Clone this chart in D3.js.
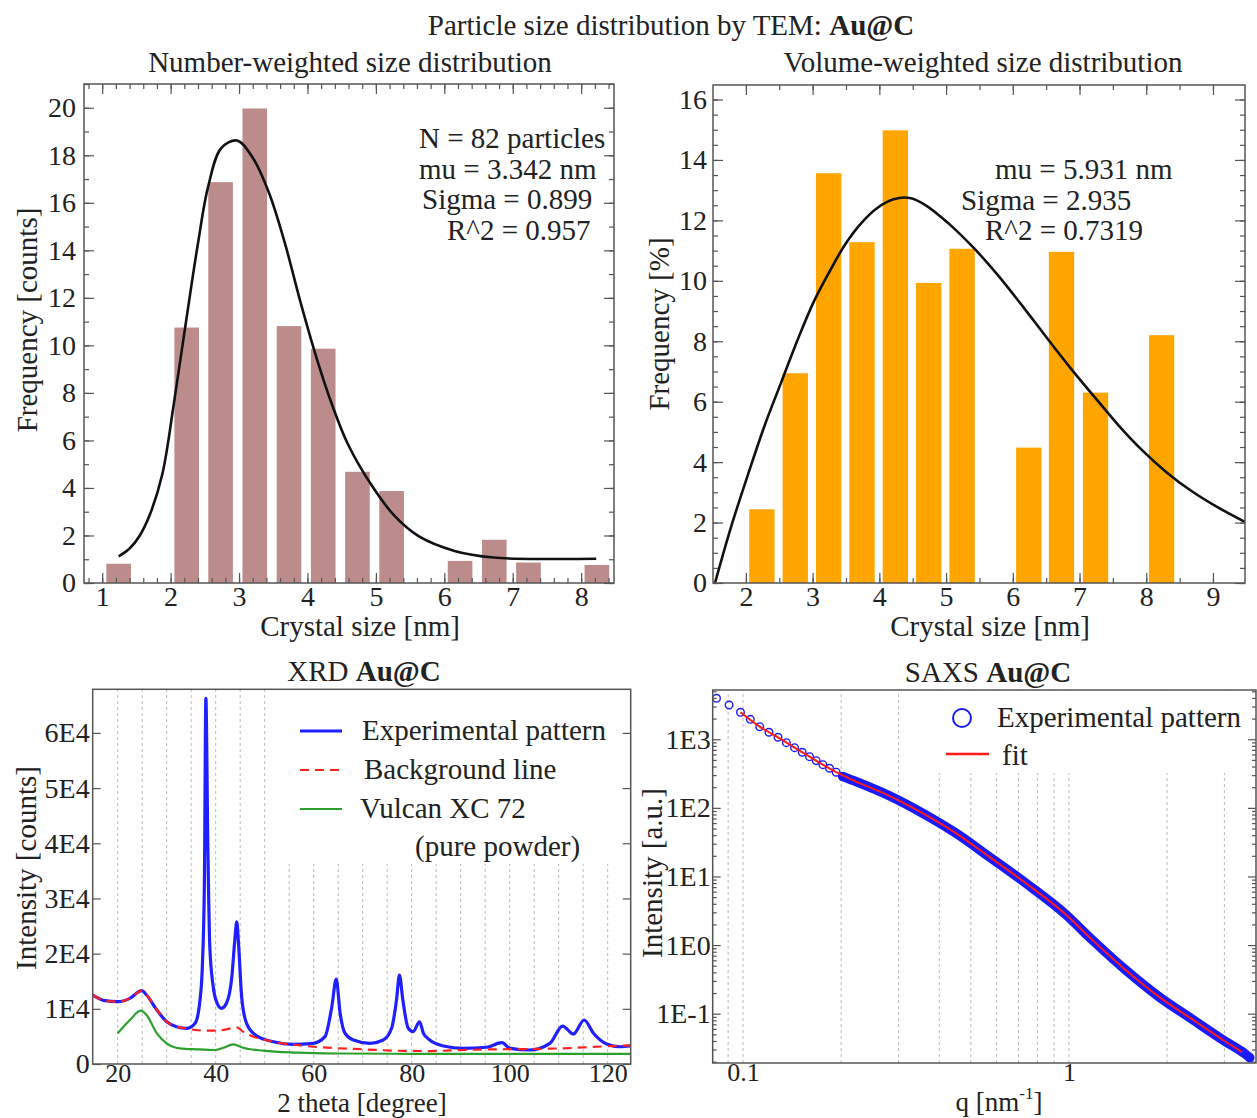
<!DOCTYPE html>
<html>
<head>
<meta charset="utf-8">
<script src="https://cdn.jsdelivr.net/npm/d3@7"></script>
<style>
body { margin: 0; background: #fff; }
svg text { font-family: "Liberation Serif", "Times New Roman", serif; font-size: 29px; fill: #222; }
svg .tick text { font-size: 28px; }
svg .small .tick text { font-size: 26px; }
</style>
</head>
<body>
<svg id="chart" width="1257" height="1118"></svg>
<script>
// number-weighted histogram (counts)
var numCenters = [1.24, 2.235, 2.73, 3.23, 3.73, 4.23, 4.73, 5.23, 6.23, 6.73, 7.23, 8.23];
var numCounts = [0.81, 10.75, 16.87, 19.97, 10.81, 9.86, 4.68, 3.87, 0.93, 1.82, 0.86, 0.76];
var numFitX = [1.24, 1.40, 1.55, 1.70, 1.88, 2.05, 2.22, 2.40, 2.55, 2.74, 2.97, 3.20, 3.44, 3.67, 3.90, 4.13, 4.36, 4.59, 4.94, 5.28, 5.63, 6.15, 6.72, 7.59, 8.22];
var numFitY = [1.12, 1.45, 2.0, 2.9, 4.6, 7.6, 10.9, 14.3, 16.7, 18.3, 18.62, 17.9, 16.4, 14.3, 11.8, 9.5, 7.5, 5.85, 4.1, 2.8, 1.96, 1.35, 1.07, 1.01, 1.02];
var numXTicks = [1, 2, 3, 4, 5, 6, 7, 8];
var numYTicks = [0, 2, 4, 6, 8, 10, 12, 14, 16, 18, 20];
var numNotes = ["N = 82 particles", "mu = 3.342 nm", "Sigma = 0.899", "R^2 = 0.957"];

// volume-weighted histogram (%)
var volCenters = [2.24, 2.74, 3.24, 3.74, 4.24, 4.74, 5.24, 6.24, 6.73, 7.24, 8.23];
var volPercent = [2.44, 6.94, 13.56, 11.28, 14.98, 9.93, 11.06, 4.48, 10.96, 6.30, 8.2];
var volFitX = [1.537, 1.777, 2.048, 2.289, 2.529, 2.770, 3.011, 3.252, 3.492, 3.733, 3.974, 4.214, 4.455, 4.696, 5.057, 5.418, 5.779, 6.140, 6.501, 6.862, 7.223, 7.584, 7.945, 8.306, 8.667, 9.028, 9.479];
var volFitY = [0, 1.85, 3.70, 5.26, 6.64, 8.02, 9.28, 10.30, 11.22, 11.92, 12.42, 12.70, 12.74, 12.50, 11.86, 11.08, 10.18, 9.18, 8.14, 7.12, 6.16, 5.22, 4.38, 3.66, 3.06, 2.56, 2.02];
var volXTicks = [2, 3, 4, 5, 6, 7, 8, 9];
var volYTicks = [0, 2, 4, 6, 8, 10, 12, 14, 16];
var volNotes = ["mu = 5.931 nm", "Sigma = 2.935", "R^2 = 0.7319"];

// XRD
var xrdX = [14.9, 17.4, 20.0, 22.5, 24.9, 25.9, 28.0, 30.0, 32.0, 34.1, 35.8, 36.8, 37.3, 37.7, 38.0, 38.4, 38.8, 39.5, 40.3, 41.2, 42.2, 43.3, 43.9, 44.3, 44.7, 45.3, 46.3, 48.4, 51.8, 55.8, 59.9, 62.3, 63.7, 64.6, 65.4, 66.4, 68.1, 71.5, 74.2, 75.9, 76.9, 77.5, 78.2, 79.3, 80.3, 81.6, 82.4, 83.7, 86.5, 90.5, 95.3, 98.4, 100.1, 104.1, 108.2, 110.8, 113.0, 115.2, 117.1, 119.8, 122.5, 124.6];
var xrdY = [12500, 11470, 11290, 11900, 13280, 12500, 9780, 7660, 6760, 6460, 7370, 11590, 18240, 33330, 66250, 39370, 21250, 14000, 11000, 10090, 11000, 15820, 22460, 25780, 21250, 12190, 7370, 5070, 4040, 3570, 3750, 4950, 10380, 15400, 9180, 5560, 4350, 3750, 4350, 6470, 11590, 16120, 11590, 6470, 5850, 7660, 5560, 4350, 3260, 2840, 3030, 3860, 2840, 2540, 3750, 6880, 5430, 7970, 5560, 3620, 3130, 3260];
var bgX = [14.9, 17.4, 20.0, 22.5, 24.9, 25.9, 28.0, 30.0, 32.0, 34.1, 35.8, 39.5, 42.2, 44.3, 45.6, 47.7, 51.8, 56.5, 59.9, 65.0, 70.1, 76.9, 83.7, 90.5, 97.3, 104.1, 110.9, 117.8, 124.6];
var bgY = [12500, 11470, 11290, 11900, 13280, 12500, 9780, 7660, 6760, 6460, 6160, 6030, 6280, 6650, 5850, 4950, 4040, 3440, 3130, 2850, 2660, 2410, 2350, 2540, 2660, 2720, 2840, 3130, 3390];
var vulX = [20.0, 22.5, 24.7, 25.9, 28.0, 30.0, 32.7, 36.1, 39.9, 41.6, 43.6, 45.6, 49.7, 56.5, 64.7, 80.0, 100.0, 124.6];
var vulY = [5560, 7970, 9660, 8880, 5560, 3750, 2840, 2660, 2540, 2950, 3570, 2950, 2410, 2050, 1900, 1850, 1820, 1820];
var xrdXTicks = [20, 40, 60, 80, 100, 120];
var xrdYTicks = [0, 10000, 20000, 30000, 40000, 50000, 60000];
var xrdYLabels = ["0", "1E4", "2E4", "3E4", "4E4", "5E4", "6E4"];
var xrdLegend = ["Experimental pattern", "Background line", "Vulcan XC 72", "(pure powder)"];

// SAXS
var saxsQ = [0.0829, 0.0906, 0.0982, 0.1053, 0.1125, 0.1201, 0.1280, 0.1358, 0.1439, 0.1519, 0.1600, 0.1677, 0.1757, 0.1842, 0.1931, 0.2023];
var saxsI = [3953, 3155, 2471, 1950, 1524, 1265, 1069, 893, 755, 647, 558, 488, 426, 378, 331, 286];
var bandQ = [0.2023, 0.2223, 0.2811, 0.3553, 0.4496, 0.5684, 0.7362, 0.9797, 1.177, 1.489, 1.882, 2.380, 3.012, 3.467, 3.59];
var bandI = [286, 241, 150, 83.8, 42.9, 19.5, 8.02, 2.77, 1.20, 0.438, 0.179, 0.0839, 0.0396, 0.026, 0.0228];
var fitQ = [0.0982, 0.1125, 0.1280, 0.1439, 0.1600, 0.1757, 0.1931, 0.2223, 0.2811, 0.3553, 0.4496, 0.5684, 0.7362, 0.9797, 1.177, 1.489, 1.882, 2.380, 3.012, 3.40];
var fitI = [2471, 1524, 1069, 755, 558, 426, 331, 241, 150, 83.8, 42.9, 19.5, 8.02, 2.77, 1.20, 0.438, 0.179, 0.0839, 0.0396, 0.0275];
var saxsYTicks = [1000, 100, 10, 1, 0.1];
var saxsYLabels = ["1E3", "1E2", "1E1", "1E0", "1E-1"];
var saxsXTicks = [0.1, 1];
var saxsXLabels = ["0.1", "1"];
var saxsGrid = [0.09, 0.1, 0.2, 0.3, 0.4, 0.5, 0.6, 0.7, 0.8, 0.9, 1, 2, 3];
var saxsLegend = ["Experimental pattern", "fit"];

var svg = d3.select("#chart");
var frameColor = "#555";

function frame(x, y) {
    var xr = x.range(), yr = y.range();
    svg.append("rect")
        .attr("x", xr[0]).attr("y", yr[1])
        .attr("width", xr[1] - xr[0]).attr("height", yr[0] - yr[1])
        .attr("fill", "none").attr("stroke", frameColor).attr("stroke-width", 1.5);
}

// inward tick marks, no labels
function marks(axis, tr, values, len) {
    svg.append("g").attr("transform", tr)
        .call(axis.tickValues(values).tickSize(-len).tickFormat(""))
        .call(function (g) {
            g.select(".domain").remove();
            g.selectAll("line").attr("stroke", frameColor).attr("stroke-width", 1.2);
        });
}

function labels(axis, tr, values, fmt, pad, cls) {
    svg.append("g").attr("transform", tr).attr("class", cls || null)
        .call(axis.tickValues(values).tickSize(0).tickPadding(pad).tickFormat(fmt))
        .call(function (g) { g.select(".domain").remove(); });
}

function text(x, y, s, anchor, rot) {
    var t = svg.append("text").attr("x", x).attr("y", y).attr("text-anchor", anchor || "middle").text(s);
    if (rot) t.attr("transform", "rotate(-90," + x + "," + y + ")");
    return t;
}

function clip(id, x, y) {
    var xr = x.range(), yr = y.range();
    svg.append("clipPath").attr("id", id).append("rect")
        .attr("x", xr[0]).attr("y", yr[1]).attr("width", xr[1] - xr[0]).attr("height", yr[0] - yr[1]);
}

// titles
var main = text(671, 35, "Particle size distribution by TEM: ");
main.append("tspan").attr("font-weight", "bold").text("Au@C");
text(350, 72, "Number-weighted size distribution");
text(983, 72, "Volume-weighted size distribution");

// ---------- panel 1: number-weighted ----------
var x1 = d3.scaleLinear().domain([0.734, 8.48]).range([84, 614]);
var y1 = d3.scaleLinear().domain([0, 21]).range([583, 84]);

svg.append("g").selectAll("rect").data(numCenters).join("rect")
    .attr("x", function (d) { return x1(d - 0.18); })
    .attr("width", function (d) { return x1(d + 0.18) - x1(d - 0.18); })
    .attr("y", function (d, i) { return y1(numCounts[i]); })
    .attr("height", function (d, i) { return y1(0) - y1(numCounts[i]); })
    .attr("fill", "#bc8c8c");

var line1 = d3.line().curve(d3.curveCatmullRom.alpha(0.5))
    .x(function (d) { return x1(d); })
    .y(function (d, i) { return y1(numFitY[i]); });
svg.append("path").datum(numFitX).attr("d", line1)
    .attr("fill", "none").attr("stroke", "#111").attr("stroke-width", 2.6);

marks(d3.axisBottom(x1), "translate(0,583)", x1.ticks(40), 5);
marks(d3.axisBottom(x1), "translate(0,583)", numXTicks, 10);
marks(d3.axisTop(x1), "translate(0,84)", x1.ticks(40), 5);
marks(d3.axisTop(x1), "translate(0,84)", numXTicks, 10);
marks(d3.axisLeft(y1), "translate(84,0)", y1.ticks(21), 5);
marks(d3.axisLeft(y1), "translate(84,0)", numYTicks, 10);
marks(d3.axisRight(y1), "translate(614,0)", y1.ticks(21), 5);
marks(d3.axisRight(y1), "translate(614,0)", numYTicks, 10);
frame(x1, y1);
labels(d3.axisBottom(x1), "translate(0,583)", numXTicks, d3.format("d"), 3);
labels(d3.axisLeft(y1), "translate(84,0)", numYTicks, d3.format("d"), 8);
text(360, 636, "Crystal size [nm]");
text(37, 320, "Frequency [counts]", "middle", true);

var notes1X = [419, 419, 422, 447];
numNotes.forEach(function (s, i) { text(notes1X[i], 148 + i * 30.5, s, "start"); });

// ---------- panel 2: volume-weighted ----------
var x2 = d3.scaleLinear().domain([1.507, 9.48]).range([713, 1245]);
var y2 = d3.scaleLinear().domain([0, 16.48]).range([583, 85]);
clip("c2", x2, y2);

svg.append("g").selectAll("rect").data(volCenters).join("rect")
    .attr("x", function (d) { return x2(d - 0.19); })
    .attr("width", function (d) { return x2(d + 0.19) - x2(d - 0.19); })
    .attr("y", function (d, i) { return y2(volPercent[i]); })
    .attr("height", function (d, i) { return y2(0) - y2(volPercent[i]); })
    .attr("fill", "#ffa500");

var line2 = d3.line().curve(d3.curveCatmullRom.alpha(0.5))
    .x(function (d) { return x2(d); })
    .y(function (d, i) { return y2(volFitY[i]); });
svg.append("path").datum(volFitX).attr("d", line2).attr("clip-path", "url(#c2)")
    .attr("fill", "none").attr("stroke", "#111").attr("stroke-width", 2.6);

marks(d3.axisBottom(x2), "translate(0,583)", x2.ticks(16), 5);
marks(d3.axisBottom(x2), "translate(0,583)", volXTicks, 10);
marks(d3.axisTop(x2), "translate(0,85)", x2.ticks(16), 5);
marks(d3.axisTop(x2), "translate(0,85)", volXTicks, 10);
marks(d3.axisLeft(y2), "translate(713,0)", y2.ticks(33), 5);
marks(d3.axisLeft(y2), "translate(713,0)", volYTicks, 10);
marks(d3.axisRight(y2), "translate(1245,0)", y2.ticks(33), 5);
marks(d3.axisRight(y2), "translate(1245,0)", volYTicks, 10);
frame(x2, y2);
labels(d3.axisBottom(x2), "translate(0,583)", volXTicks, d3.format("d"), 3);
labels(d3.axisLeft(y2), "translate(713,0)", volYTicks, d3.format("d"), 6);
text(990, 636, "Crystal size [nm]");
text(669, 324, "Frequency [%]", "middle", true);

var notes2X = [995, 961, 985];
volNotes.forEach(function (s, i) { text(notes2X[i], 179 + i * 30.5, s, "start"); });

// ---------- panel 3: XRD ----------
var x3 = d3.scaleLinear().domain([14.9, 124.7]).range([92.7, 630.7]);
var y3 = d3.scaleLinear().domain([0, 67900]).range([1064, 689.3]);
clip("c3", x3, y3);

svg.append("g").selectAll("line").data(d3.range(20, 121, 5)).join("line")
    .attr("x1", function (d) { return x3(d); }).attr("x2", function (d) { return x3(d); })
    .attr("y1", y3(0)).attr("y2", y3(67900))
    .attr("stroke", "#aaa").attr("stroke-width", 0.8).attr("stroke-dasharray", "3,3");
svg.append("rect").attr("x", 280).attr("y", 690).attr("width", 350).attr("height", 174).attr("fill", "#fff");

function xrdLine(xs, ys) {
    return d3.line().curve(d3.curveMonotoneX)
        .x(function (d) { return x3(d); })
        .y(function (d, i) { return y3(ys[i]); })(xs);
}
svg.append("path").attr("d", xrdLine(vulX, vulY)).attr("clip-path", "url(#c3)")
    .attr("fill", "none").attr("stroke", "#2ca02c").attr("stroke-width", 2.2);
svg.append("path").attr("d", xrdLine(xrdX, xrdY)).attr("clip-path", "url(#c3)")
    .attr("fill", "none").attr("stroke", "#1f1fff").attr("stroke-width", 3.2);
svg.append("path").attr("d", xrdLine(bgX, bgY)).attr("clip-path", "url(#c3)")
    .attr("fill", "none").attr("stroke", "#ff2020").attr("stroke-width", 2.2).attr("stroke-dasharray", "9,6");

marks(d3.axisLeft(y3), "translate(92.7,0)", xrdYTicks, 8);
marks(d3.axisRight(y3), "translate(630.7,0)", xrdYTicks, 8);
frame(x3, y3);
labels(d3.axisBottom(x3), "translate(0,1064)", xrdXTicks, d3.format("d"), 0, "small");
labels(d3.axisLeft(y3), "translate(92.7,0)", xrdYTicks, function (d, i) { return xrdYLabels[i]; }, 3);
text(362, 1112, "2 theta [degree]").style("font-size", "27px");
text(36, 868, "Intensity [counts]", "middle", true);
var t3 = text(364, 681, "XRD ");
t3.append("tspan").attr("font-weight", "bold").text("Au@C");

// legend
var legColors = ["#1f1fff", "#ff2020", "#2ca02c"];
var legY = [731, 770, 809];
legColors.forEach(function (c, i) {
    svg.append("line").attr("x1", 300).attr("x2", 342).attr("y1", legY[i]).attr("y2", legY[i])
        .attr("stroke", c).attr("stroke-width", i === 0 ? 3 : 2.2)
        .attr("stroke-dasharray", i === 1 ? "9,6" : null);
});
text(362, 740, xrdLegend[0], "start");
text(364, 779, xrdLegend[1], "start");
text(360, 818, xrdLegend[2], "start");
text(415, 856, xrdLegend[3], "start");

// ---------- panel 4: SAXS ----------
var x4 = d3.scaleLog().domain([0.0807, 3.75]).range([712.7, 1256]);
var y4 = d3.scaleLog().domain([0.0191, 5224]).range([1063, 690]);
clip("c4", x4, y4);

svg.append("g").selectAll("line").data(saxsGrid).join("line")
    .attr("x1", function (d) { return x4(d); }).attr("x2", function (d) { return x4(d); })
    .attr("y1", 1063).attr("y2", 690)
    .attr("stroke", "#aaa").attr("stroke-width", 0.8).attr("stroke-dasharray", "3,3");
svg.append("rect").attr("x", 920).attr("y", 691).attr("width", 335).attr("height", 82).attr("fill", "#fff");

var saxsPath = function (qs, is) {
    return d3.line().curve(d3.curveMonotoneX)
        .x(function (d) { return x4(d); })
        .y(function (d, i) { return y4(is[i]); })(qs);
};
svg.append("path").attr("d", saxsPath(bandQ, bandI)).attr("clip-path", "url(#c4)")
    .attr("fill", "none").attr("stroke", "#1a1aff").attr("stroke-width", 9.5).attr("stroke-linecap", "round");
svg.append("g").attr("clip-path", "url(#c4)").selectAll("circle").data(saxsQ).join("circle")
    .attr("cx", function (d) { return x4(d); })
    .attr("cy", function (d, i) { return y4(saxsI[i]); })
    .attr("r", 3.8).attr("fill", "none").attr("stroke", "#1a1aff").attr("stroke-width", 1.4);
svg.append("path").attr("d", saxsPath(fitQ, fitI)).attr("clip-path", "url(#c4)")
    .attr("fill", "none").attr("stroke", "#ff1a1a").attr("stroke-width", 2);

var minorY = [];
[0.01, 0.1, 1, 10, 100, 1000].forEach(function (p) {
    for (var k = 2; k <= 9; k++) if (p * k > 0.0191 && p * k < 5224) minorY.push(p * k);
});
marks(d3.axisLeft(y4), "translate(712.7,0)", minorY, 4);
marks(d3.axisLeft(y4), "translate(712.7,0)", saxsYTicks, 8);
marks(d3.axisRight(y4), "translate(1256,0)", minorY, 4);
marks(d3.axisRight(y4), "translate(1256,0)", saxsYTicks, 8);
frame(x4, y4);
labels(d3.axisBottom(x4), "translate(0,1063)", saxsXTicks, function (d, i) { return saxsXLabels[i]; }, 0, "small");
labels(d3.axisLeft(y4), "translate(712.7,0)", saxsYTicks, function (d, i) { return saxsYLabels[i]; }, 2);
var q = text(999, 1111, "q [nm").style("font-size", "27px");
q.append("tspan").attr("font-size", "17px").attr("dy", -12).text("-1");
q.append("tspan").attr("dy", 12).text("]");
text(662, 873, "Intensity [a.u.]", "middle", true);
var t4 = text(988, 682, "SAXS ");
t4.append("tspan").attr("font-weight", "bold").text("Au@C");

// legend
svg.append("circle").attr("cx", 962).attr("cy", 718).attr("r", 9)
    .attr("fill", "none").attr("stroke", "#1a1aff").attr("stroke-width", 2);
text(997, 727, saxsLegend[0], "start");
svg.append("line").attr("x1", 946).attr("x2", 989).attr("y1", 754).attr("y2", 754)
    .attr("stroke", "#ff1a1a").attr("stroke-width", 2.5);
text(1002, 765, saxsLegend[1], "start");
</script>
</body>
</html>
